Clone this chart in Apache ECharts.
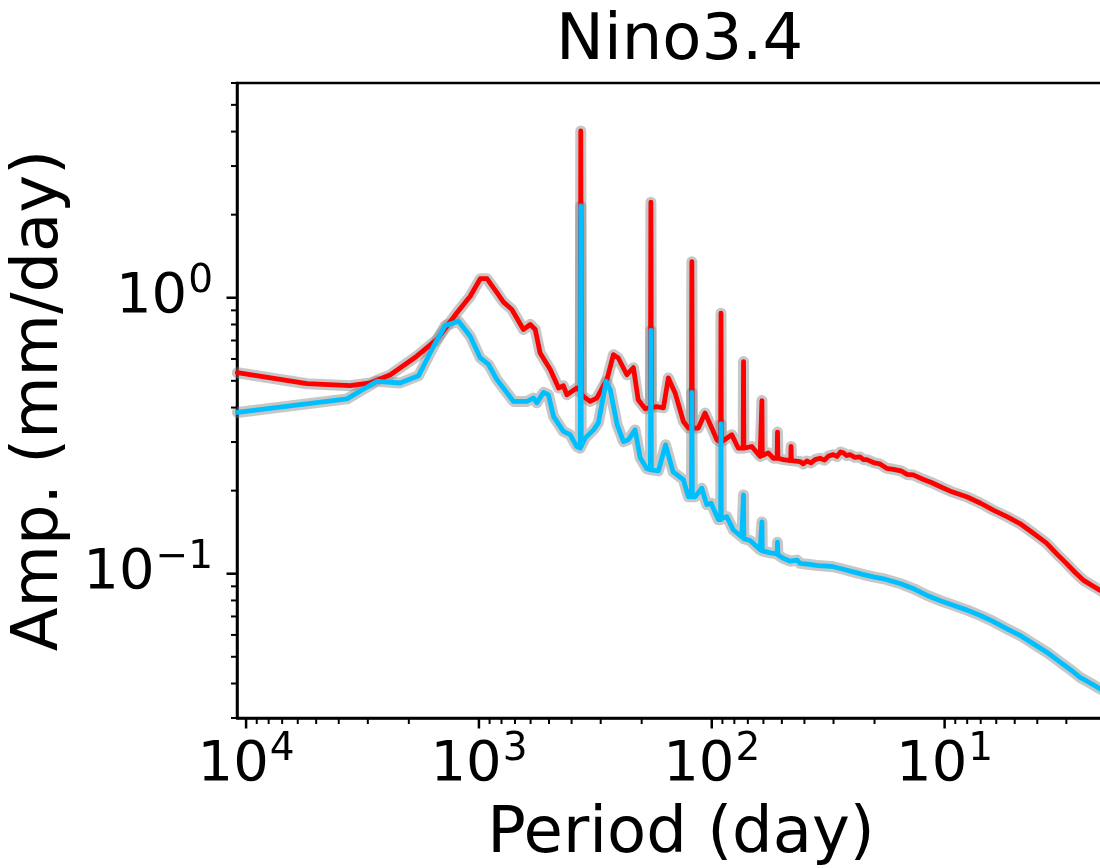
<!DOCTYPE html>
<html><head><meta charset="utf-8">
<script src="https://cdn.jsdelivr.net/npm/echarts@6/dist/echarts.min.js"></script>
<style>html,body{margin:0;padding:0;background:#fff}#c{width:1100px;height:868px}</style>
</head><body><div id="c"></div>
<script>
// ---- data (period in days, amplitude in mm/day) ----
const redPeriod = [10900,5470,3570,2930,2400,1850,1515,1243,1090,987,924,837,784,722,644,602,573,546,494,455,434,419,380,367,365.25,363.5,356,333,312,282,264.5,252,231.6,217,207,193.3,183.5,182.6,181.7,172.2,161.3,153.6,143.7,132.4,126.0,122.3,121.75,121.2,114.2,106.9,100,95.2,91.6,91.3,91.0,82.1,76.9,73.3,73.05,72.8,67.3,62.0,61.1,60.9,60.7,57.2,54.4,52.4,52.2,52.0,49.3,45.8,45.66,45.5,41.8,40.5,39.1,37.5,36.0,34.3,32.8,31.5,30.1,29.0,28.0,27.2,26.3,25.5,24.3,23.1,22.3,21.6,20.0,19.0,17.74,16.6,15.4,14.5,13.64,12.4,11.4,10.47,9.3,8.05,7.0,6.18,5.4,4.75,4.2,3.65,3.3,3.0,2.75,2.54,2.156,2.0];
const redAmp    = [0.535,0.488,0.480,0.491,0.526,0.614,0.706,0.882,1.013,1.172,1.172,1.043,0.964,0.907,0.767,0.800,0.767,0.631,0.549,0.471,0.480,0.445,0.471,0.46,4.02,0.45,0.439,0.421,0.433,0.505,0.622,0.605,0.526,0.558,0.427,0.396,0.40,2.22,0.40,0.403,0.399,0.512,0.452,0.356,0.337,0.337,1.35,0.337,0.337,0.382,0.337,0.306,0.30,0.879,0.30,0.319,0.285,0.285,0.587,0.285,0.289,0.266,0.268,0.424,0.268,0.274,0.262,0.262,0.326,0.262,0.259,0.257,0.289,0.257,0.255,0.250,0.256,0.252,0.259,0.262,0.258,0.267,0.270,0.266,0.276,0.274,0.268,0.270,0.264,0.265,0.259,0.259,0.252,0.250,0.241,0.239,0.236,0.229,0.228,0.220,0.214,0.207,0.198,0.190,0.180,0.170,0.161,0.152,0.141,0.129,0.118,0.109,0.101,0.0948,0.0872,0.084];
const bluePeriod = [10900,3690,2740,2180,1816,1566,1395,1223,1090,987,910,837,710,622,583,564,528,503,478,434,406,380,367,365.25,363.5,350,322,307,284,273,255,239.5,228,213.4,203,190,183.5,182.6,181.7,169.5,157.9,146.6,132.4,126,122.3,121.75,121.2,117.9,110.4,105.1,100.7,93.7,91.6,91.3,91.0,86.2,80.8,74.3,73.3,73.05,72.8,68.5,62.0,61.1,60.9,60.7,56,52.4,52.2,52.0,49.3,46,43,41.8,38,35,32,30.1,27.5,24.7,22.5,20.25,18,15.55,13.5,11.95,10.5,9.19,8.0,7.06,6.2,5.42,4.7,4.17,3.6,3.20,2.85,2.63,2.35,2.156,2.0];
const blueAmp    = [0.384,0.430,0.498,0.491,0.522,0.667,0.793,0.822,0.725,0.605,0.573,0.505,0.421,0.421,0.433,0.416,0.454,0.445,0.371,0.328,0.319,0.289,0.285,2.15,0.29,0.310,0.332,0.352,0.498,0.464,0.347,0.301,0.306,0.332,0.263,0.240,0.238,0.762,0.238,0.236,0.293,0.234,0.219,0.190,0.190,0.454,0.190,0.190,0.204,0.178,0.180,0.157,0.157,0.349,0.158,0.161,0.144,0.136,0.135,0.193,0.134,0.132,0.122,0.121,0.154,0.121,0.119,0.118,0.130,0.117,0.1137,0.111,0.112,0.109,0.108,0.107,0.1065,0.106,0.104,0.1016,0.0995,0.0974,0.0955,0.0922,0.0880,0.0836,0.0800,0.0769,0.0738,0.0707,0.0672,0.0633,0.0595,0.0558,0.0516,0.0479,0.0446,0.0422,0.0400,0.0383,0.0370];
const xRange = [1.68, 10940];
const yRange = [0.03, 6];
const titleText = 'Nino3.4';
const xName = 'Period (day)';
const yName = 'Amp. (mm/day)';

const FONT = 'DejaVu Sans';
const chart = echarts.init(document.getElementById('c'), null, {renderer: 'canvas'});
const pairs = (p, a) => p.map((v, i) => [v, a[i]]);
function fmt(v) {
  const e = Math.log10(v), r = Math.round(e);
  if (Math.abs(e - r) > 1e-6) return '';
  const s = r < 0 ? '\u2212' + (-r) : '' + r;
  return '{b|10}{s|' + s + '}';
}
const rich = {
  b: {fontFamily: FONT, fontSize: 56, lineHeight: 70, color: '#000'},
  s: {fontFamily: FONT, fontSize: 39, lineHeight: 39, verticalAlign: 'top', color: '#000', padding: [0, 0, 0, 1]}
};
const lineSeries = (name, data, color, width, z) => ({
  name, type: 'line', data, showSymbol: false, symbol: 'none', silent: true, z,
  lineStyle: {color, width, join: 'round', cap: 'round'}, animation: false
});
chart.setOption({
  animation: false,
  backgroundColor: '#fff',
  title: {text: titleText, left: 556, top: 10, padding: 0,
    textStyle: {fontFamily: FONT, fontSize: 64, fontWeight: 'normal', color: '#000'}},
  grid: {left: 237, width: 888, top: 83, height: 635, containLabel: false, outerBoundsMode: 'none',
    show: true, borderColor: '#000', borderWidth: 2.5},
  xAxis: {type: 'log', logBase: 10, inverse: true, min: xRange[0], max: xRange[1],
    name: xName, nameLocation: 'middle', nameGap: 85,
    nameTextStyle: {fontFamily: FONT, fontSize: 64, color: '#000'},
    axisLine: {show: true, lineStyle: {color: '#000', width: 2.5}},
    axisTick: {show: false}, splitLine: {show: false}, minorTick: {show: false},
    axisLabel: {margin: 12, formatter: fmt, rich, showMinLabel: false, showMaxLabel: false, hideOverlap: false}},
  yAxis: {type: 'log', logBase: 10, min: yRange[0], max: yRange[1], splitNumber: 2,
    name: yName, nameLocation: 'middle', nameGap: 144,
    nameTextStyle: {fontFamily: FONT, fontSize: 64, color: '#000'},
    axisLine: {show: true, lineStyle: {color: '#000', width: 2.5}},
    axisTick: {show: false}, splitLine: {show: false}, minorTick: {show: false},
    axisLabel: {margin: 24, formatter: fmt, rich, showMinLabel: false, showMaxLabel: false, hideOverlap: false}},
  series: [
    lineSeries('redBand', pairs(redPeriod, redAmp), 'rgba(130,130,130,0.45)', 11, 1),
    lineSeries('blueBand', pairs(bluePeriod, blueAmp), 'rgba(130,130,130,0.45)', 11, 1),
    lineSeries('red', pairs(redPeriod, redAmp), '#ff0000', 4.8, 2),
    lineSeries('blue', pairs(bluePeriod, blueAmp), '#00bfff', 4.8, 3)
  ]
});

// ticks (major at powers of ten, minor at 2..9 x 10^k), positioned through the axis scales
const axisX = chart.convertToPixel({xAxisIndex: 0}, xRange[1]);
const axisY = chart.convertToPixel({yAxisIndex: 0}, yRange[0]);
const els = [];
function addTick(isX, v, major) {
  const len = major ? 10.5 : 6, w = major ? 2.5 : 2;
  if (isX) {
    const px = chart.convertToPixel({xAxisIndex: 0}, v);
    els.push({type: 'line', silent: true, z: 100, shape: {x1: px, y1: axisY, x2: px, y2: axisY + len}, style: {stroke: '#000', lineWidth: w}});
  } else {
    const py = chart.convertToPixel({yAxisIndex: 0}, v);
    els.push({type: 'line', silent: true, z: 100, shape: {x1: axisX - len, y1: py, x2: axisX, y2: py}, style: {stroke: '#000', lineWidth: w}});
  }
}
for (let k = -3; k <= 5; k++) {
  for (let m = 1; m <= 9; m++) {
    const v = m * Math.pow(10, k);
    if (v >= xRange[0] && v <= xRange[1]) addTick(true, v, m === 1);
    if (v >= yRange[0] && v <= yRange[1]) addTick(false, v, m === 1);
  }
}
chart.setOption({graphic: {elements: els}});
</script>
</body></html>
